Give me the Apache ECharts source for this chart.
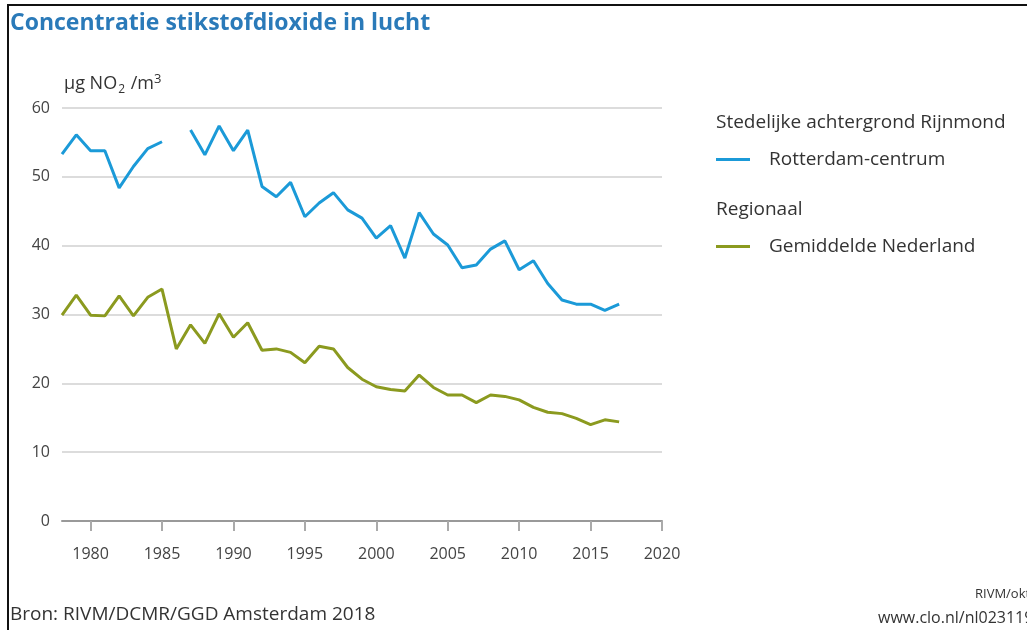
<!DOCTYPE html>
<html>
<head>
<meta charset="utf-8">
<script src="https://cdn.jsdelivr.net/npm/echarts@6/dist/echarts.min.js"></script>
<style>
  html, body { margin: 0; padding: 0; background: #fff; }
  #chart { width: 1027px; height: 630px; }
</style>
</head>
<body>
<div id="chart"></div>
<script>
// Years 1978 - 2017
const years = [
  1978, 1979, 1980, 1981, 1982, 1983, 1984, 1985, 1986, 1987,
  1988, 1989, 1990, 1991, 1992, 1993, 1994, 1995, 1996, 1997,
  1998, 1999, 2000, 2001, 2002, 2003, 2004, 2005, 2006, 2007,
  2008, 2009, 2010, 2011, 2012, 2013, 2014, 2015, 2016, 2017
];

// Rotterdam-centrum (1986 missing)
const rotterdam = [
  53.3, 56.1, 53.8, 53.8, 48.4, 51.5, 54.1, 55.1, null, 56.8,
  53.2, 57.4, 53.8, 56.8, 48.6, 47.1, 49.2, 44.2, 46.2, 47.7,
  45.2, 44.0, 41.1, 42.9, 38.2, 44.8, 41.7, 40.1, 36.8, 37.2,
  39.5, 40.7, 36.5, 37.8, 34.5, 32.1, 31.5, 31.5, 30.6, 31.5
];

// Gemiddelde Nederland
const nederland = [
  29.9, 32.8, 29.9, 29.8, 32.7, 29.8, 32.5, 33.7, 25.0, 28.5,
  25.8, 30.1, 26.7, 28.8, 24.8, 25.0, 24.5, 23.0, 25.4, 25.0,
  22.3, 20.6, 19.5, 19.1, 18.9, 21.2, 19.4, 18.3, 18.3, 17.2,
  18.3, 18.1, 17.6, 16.5, 15.8, 15.6, 14.9, 14.0, 14.7, 14.4
];

const xTicks = [1980, 1985, 1990, 1995, 2000, 2005, 2010, 2015, 2020];

const FONT = '"Open Sans", "Noto Sans", sans-serif';
const BLUE = '#1b9ad8';
const GREEN = '#8b9a1f';
const TEXT = '#333';

const legendBase = {
  left: 716,
  padding: 0,
  icon: 'rect',
  itemWidth: 34,
  itemHeight: 3,
  textStyle: {
    color: TEXT,
    fontFamily: FONT,
    fontSize: 19,
    padding: [0, 0, 0, 14],
  },
};

const chart = echarts.init(document.getElementById('chart'));

chart.setOption({
  animation: false,
  title: {
    text: 'Concentratie stikstofdioxide in lucht',
    left: 10,
    top: 12,
    padding: 0,
    textStyle: {
      color: '#2a7ab9',
      fontFamily: FONT,
      fontWeight: 'bold',
      fontSize: 23,
    },
  },
  legend: [
    Object.assign({ data: ['Rotterdam-centrum'], top: 150 }, legendBase),
    Object.assign({ data: ['Gemiddelde Nederland'], top: 237 }, legendBase),
  ],
  grid: {
    left: 62,
    right: 365,
    top: 108,
    bottom: 109,
    containLabel: false,
  },
  xAxis: {
    type: 'value',
    min: 1978,
    max: 2020,
    axisLine: { lineStyle: { color: '#999', width: 2 } },
    axisTick: {
      show: true,
      length: 10,
      customValues: xTicks,
      lineStyle: { color: '#aaa', width: 2 },
    },
    axisLabel: {
      customValues: xTicks,
      formatter: (v) => String(v),
      color: '#444',
      fontFamily: FONT,
      fontSize: 16,
      margin: 25,
    },
    splitLine: { show: false },
  },
  yAxis: {
    type: 'value',
    min: 0,
    max: 60,
    interval: 10,
    axisLine: { show: false },
    axisTick: { show: false },
    axisLabel: {
      color: '#444',
      fontFamily: FONT,
      fontSize: 16,
      margin: 12,
    },
    splitLine: { lineStyle: { color: '#dcdcdc', width: 2 } },
  },
  series: [
    {
      name: 'Rotterdam-centrum',
      type: 'line',
      data: years.map((y, i) => [y, rotterdam[i]]),
      showSymbol: false,
      connectNulls: false,
      lineStyle: { color: BLUE, width: 3 },
      itemStyle: { color: BLUE },
    },
    {
      name: 'Gemiddelde Nederland',
      type: 'line',
      data: years.map((y, i) => [y, nederland[i]]),
      showSymbol: false,
      lineStyle: { color: GREEN, width: 3 },
      itemStyle: { color: GREEN },
    },
  ],
  graphic: [
    // frame of the screenshot
    { type: 'line', shape: { x1: 7, y1: 5, x2: 1027, y2: 5 }, style: { stroke: '#111', lineWidth: 2 } },
    { type: 'line', shape: { x1: 8, y1: 5, x2: 8, y2: 630 }, style: { stroke: '#111', lineWidth: 2 } },
    // unit
    {
      type: 'text',
      left: 64,
      top: 73,
      style: {
        text: '{a|µg NO}{s|2}{a| /m}{p|3}',
        rich: {
          a: { fontFamily: FONT, fontSize: 18, fill: TEXT },
          s: { fontFamily: FONT, fontSize: 12, fill: TEXT, padding: [12, 1, 0, 1] },
          p: { fontFamily: FONT, fontSize: 13, fill: TEXT, padding: [0, 0, 8, 0] },
        },
      },
    },
    // legend group headers
    {
      type: 'text',
      left: 716,
      top: 113,
      style: { text: 'Stedelijke achtergrond Rijnmond', fontFamily: FONT, fontSize: 19, fill: TEXT },
    },
    {
      type: 'text',
      left: 716,
      top: 200,
      style: { text: 'Regionaal', fontFamily: FONT, fontSize: 19, fill: TEXT },
    },
    // footer
    {
      type: 'text',
      left: 10,
      top: 605,
      style: { text: 'Bron: RIVM/DCMR/GGD Amsterdam 2018', fontFamily: FONT, fontSize: 19, fill: TEXT },
    },
    {
      type: 'text',
      left: 975,
      top: 588,
      style: { text: 'RIVM/okt18', fontFamily: FONT, fontSize: 13, fill: TEXT },
    },
    {
      type: 'text',
      left: 878,
      top: 610,
      style: { text: 'www.clo.nl/nl023119', fontFamily: FONT, fontSize: 16, fill: TEXT },
    },
  ],
});
</script>
</body>
</html>
